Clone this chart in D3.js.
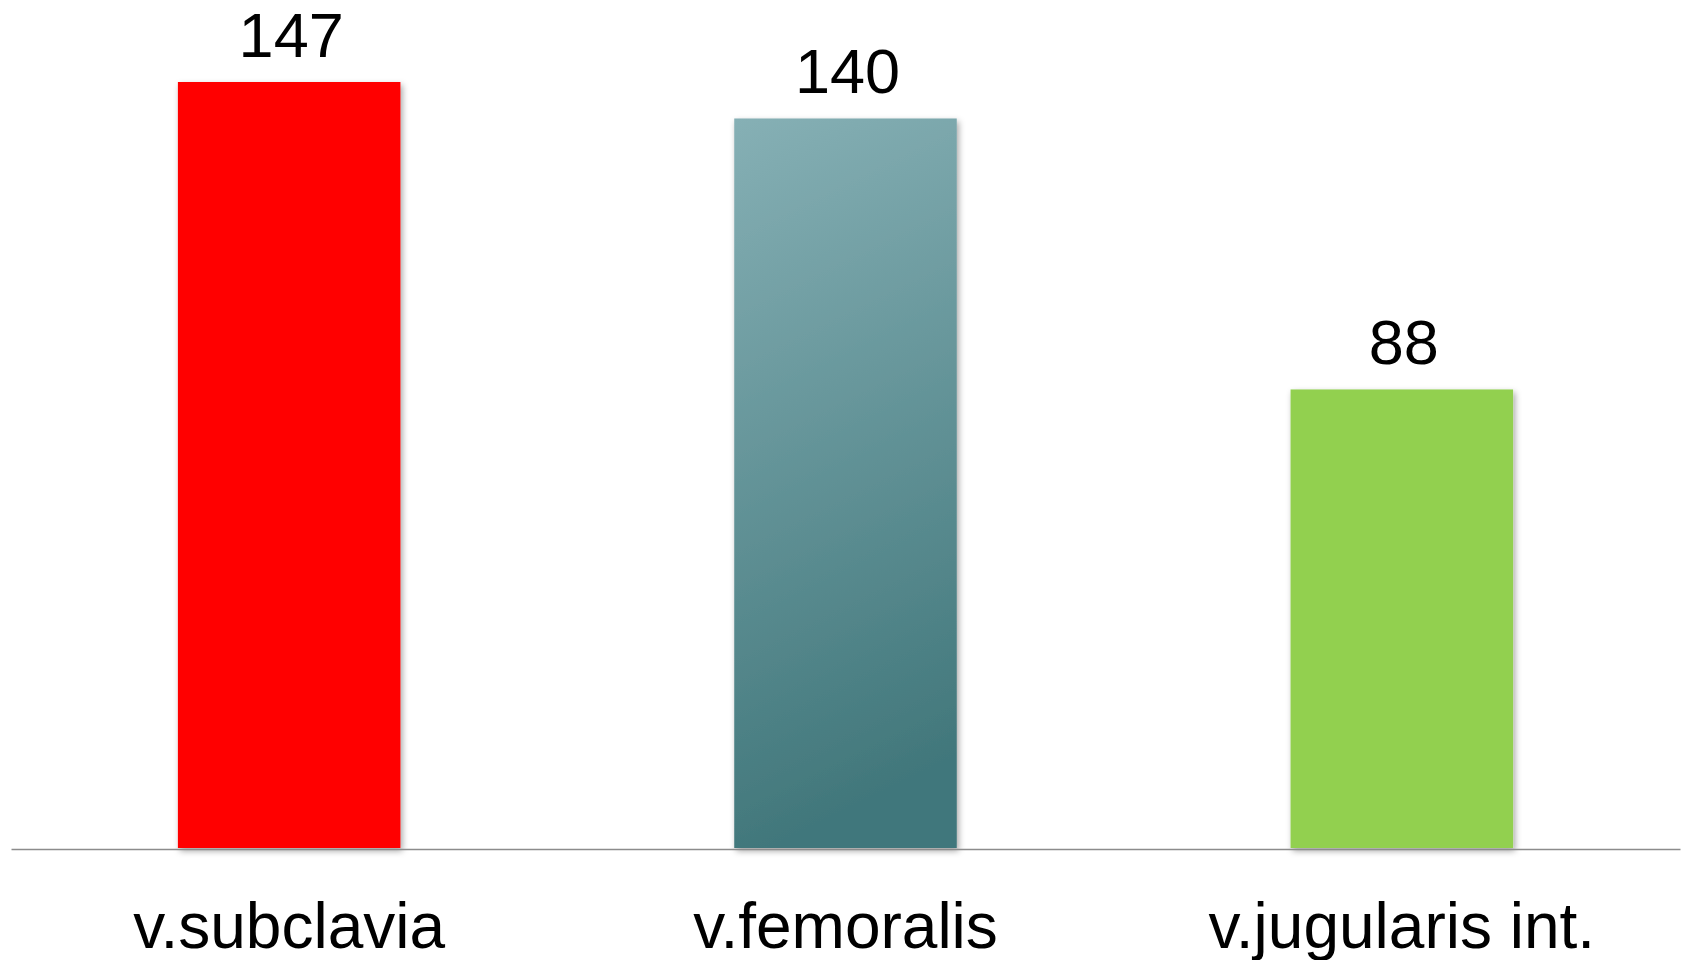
<!DOCTYPE html>
<html>
<head>
<meta charset="utf-8">
<script src="https://cdn.jsdelivr.net/npm/d3@7"></script>
<style>
  html, body { margin: 0; padding: 0; background: #fff; }
  svg { display: block; }
  text { font-family: "Liberation Sans", Arial, sans-serif; fill: #000; }
</style>
</head>
<body>
<svg id="chart" width="1685" height="960"></svg>
<script>
// Catheter placement sites and counts
const categories = ["v.subclavia", "v.femoralis", "v.jugularis int."];
const counts = [147, 140, 88];
const fills = ["solid-red", "grad-teal", "solid-green"];

const W = 1685, H = 960;
const baseY = 848;

const svg = d3.select("#chart");
const defs = svg.append("defs");

// Teal bar: light at the top-left, darker toward the bottom
const grad = defs.append("linearGradient")
  .attr("id", "grad-teal")
  .attr("x1", "0").attr("y1", "0").attr("x2", "0.15").attr("y2", "1");
grad.append("stop").attr("offset", "0").attr("stop-color", "#86b0b5");
grad.append("stop").attr("offset", "1").attr("stop-color", "#41777b");

const shadow = defs.append("filter")
  .attr("id", "shadow")
  .attr("x", "-10%").attr("y", "-10%").attr("width", "130%").attr("height", "130%");
shadow.append("feDropShadow")
  .attr("dx", 2).attr("dy", 3).attr("stdDeviation", 3)
  .attr("flood-color", "#000").attr("flood-opacity", 0.35);

const fillColor = {
  "solid-red": "#ff0000",
  "grad-teal": "url(#grad-teal)",
  "solid-green": "#92d050"
};

const x = d3.scaleBand()
  .domain(categories)
  .range([11, 1680])
  .paddingInner(0.6)
  .paddingOuter(0.3);

const y = d3.scaleLinear()
  .domain([0, 160])
  .range([baseY, baseY - 160 * (766 / 147)]);

const data = categories.map((c, i) => ({ cat: c, value: counts[i], fill: fills[i] }));

// Bars
svg.append("g")
  .selectAll("rect")
  .data(data)
  .join("rect")
  .attr("x", d => x(d.cat))
  .attr("y", d => y(d.value))
  .attr("width", x.bandwidth())
  .attr("height", d => y(0) - y(d.value))
  .attr("fill", d => fillColor[d.fill])
  .attr("filter", "url(#shadow)");

// Baseline axis
const xAxis = d3.axisBottom(x).tickSize(0).tickPadding(0);
const axisG = svg.append("g")
  .attr("transform", `translate(0,${baseY + 1})`)
  .call(xAxis);
axisG.select(".domain")
  .attr("stroke", "#8c8c8c")
  .attr("stroke-width", 1.5);
axisG.selectAll(".tick text")
  .attr("y", 99)
  .attr("dy", null)
  .style("font-family", "'Liberation Sans', Arial, sans-serif")
  .style("font-size", "64px")
  .attr("fill", "#000");

// Value labels above bars
svg.append("g")
  .selectAll("text")
  .data(data)
  .join("text")
  .attr("x", d => x(d.cat) + x.bandwidth() / 2 + 2)
  .attr("y", d => y(d.value) - 25)
  .attr("text-anchor", "middle")
  .style("font-size", "63px")
  .text(d => d.value);
</script>
</body>
</html>
